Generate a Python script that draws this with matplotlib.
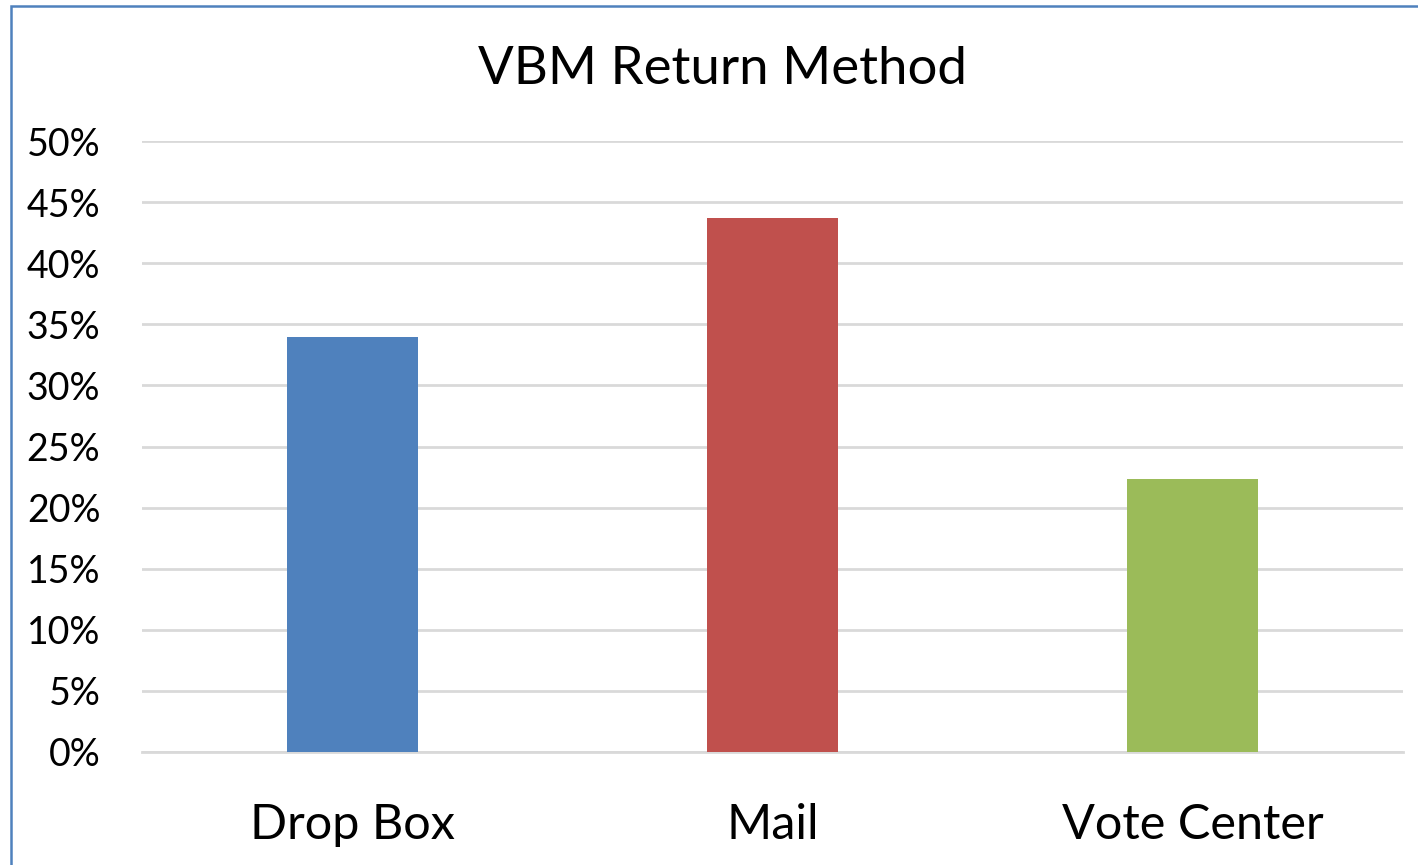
import numpy as np
import matplotlib.pyplot as plt
from matplotlib.patches import Rectangle

# Data
methods = ['Drop Box', 'Mail', 'Vote Center']
shares = [34.0, 43.7, 22.3]
colors = ['#4F81BD', '#C0504D', '#9BBB59']
yticks = np.arange(0, 55, 5)

plt.rcParams['font.family'] = ['Lato', 'DejaVu Sans']

fig = plt.figure(figsize=(14.18, 8.65), dpi=100)
ax = fig.add_axes([142 / 1418, 1 - 752 / 865, (1403 - 142) / 1418, (752 - 141) / 865])

x = np.arange(len(methods))
ax.bar(x, shares, width=0.312, color=colors, zorder=3)

ax.set_xlim(-0.5, 2.5)
ax.set_ylim(0, 50)
ax.set_yticks(yticks)
ax.set_yticklabels([f'{t}%' for t in yticks], fontsize=27, va='center_baseline')
ax.set_xticks(x)
ax.set_xticklabels(methods, fontsize=35)
ax.tick_params(axis='y', length=0, pad=30)
ax.tick_params(axis='x', length=0, pad=37)
ax.grid(axis='y', color='#D9D9D9', linewidth=2, zorder=0)
for s in ['top', 'right', 'left']:
    ax.spines[s].set_visible(False)
ax.spines['bottom'].set_color('#D9D9D9')
ax.spines['bottom'].set_linewidth(2)

fig.text(722 / 1418, 1 - 69 / 865, 'VBM Return Method', ha='center', va='center', fontsize=38)

# chart border (cut off at right and bottom)
fig.patches.append(Rectangle((11 / 1418, -0.1), 1.2, 1 - 6 / 865 + 0.1,
                             transform=fig.transFigure, fill=False,
                             edgecolor='#4F81BD', linewidth=1.8))

fig.savefig('out.png', dpi=100)
